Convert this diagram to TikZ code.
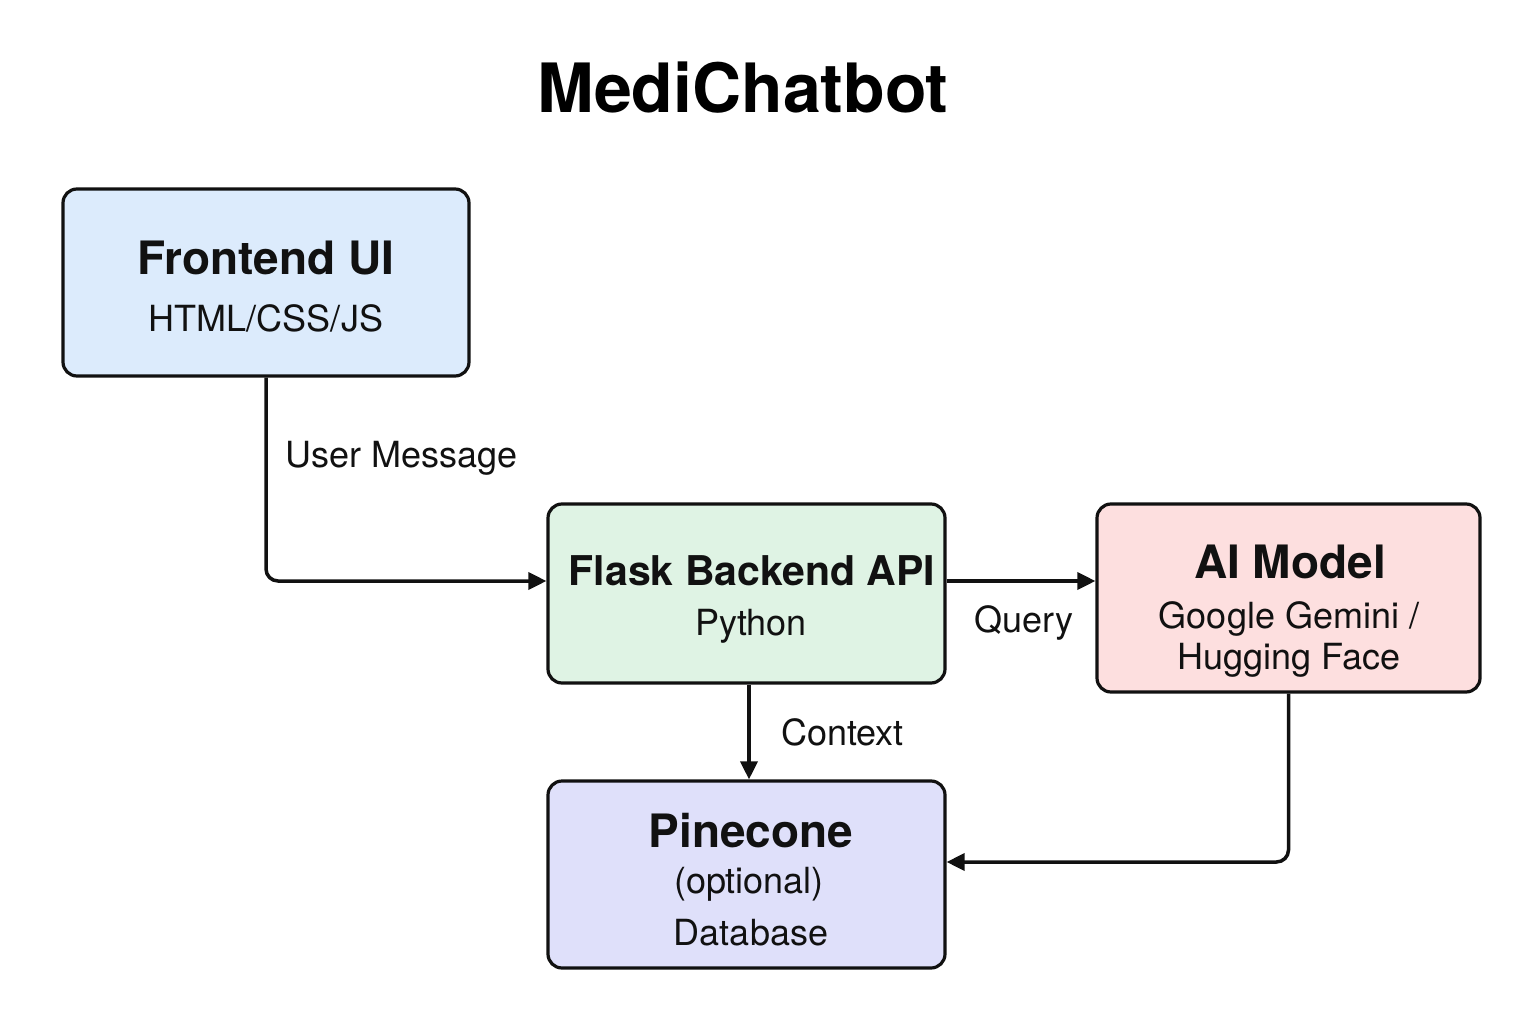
\documentclass[tikz,border=0pt]{standalone}
\usepackage{fontspec}
\setmainfont{TeX Gyre Heros}
\usetikzlibrary{arrows.meta}
\definecolor{feFill}{HTML}{DCEBFC}
\definecolor{flFill}{HTML}{DFF3E4}
\definecolor{aiFill}{HTML}{FDDFDF}
\definecolor{pcFill}{HTML}{DFE0FA}
\definecolor{ink}{HTML}{111111}
\tikzset{
  box/.style={draw=ink, line width=3.2pt, rounded corners=14pt, rectangle, inner sep=0pt},
  ttl/.style={anchor=base, inner sep=0pt, font=\fontsize{46}{50}\selectfont\bfseries, text=ink},
  sub/.style={anchor=base, inner sep=0pt, font=\fontsize{36}{40}\selectfont, text=ink},
  lbl/.style={anchor=base west, inner sep=0pt, font=\fontsize{36}{40}\selectfont, text=ink},
  conn/.style={draw=ink, line width=3.5pt, rounded corners=12pt, -{Triangle[length=18pt,width=17pt]}}
}
\begin{document}
\begin{tikzpicture}[x=1pt,y=-1pt]
\useasboundingbox (0,0) rectangle (1536,1024);
\fill[white] (0,0) rectangle (1536,1024);
% title
\node[anchor=base, inner sep=0pt, font=\fontsize{68}{72}\selectfont\bfseries, text=black] (title) at (743,113) {MediChatbot};
% boxes
\node[box, fill=feFill, minimum width=406pt, minimum height=187pt] (fe) at (266,282.5) {};
\node[box, fill=flFill, minimum width=397pt, minimum height=179pt] (fl) at (746.5,593.5) {};
\node[box, fill=aiFill, minimum width=383pt, minimum height=188pt] (ai) at (1288.5,598) {};
\node[box, fill=pcFill, minimum width=397pt, minimum height=187pt] (pc) at (746.5,874.5) {};
% box texts
\node[ttl] (fet) at (266,275) {Frontend UI};
\node[sub] (fes) at (266,331) {HTML/CSS/JS};
\node[ttl, font=\fontsize{41}{45}\selectfont\bfseries] (flt) at (752,585) {Flask Backend API};
\node[sub] (fls) at (751,635) {Python};
\node[ttl] (ait) at (1290,578) {AI Model};
\node[sub] (ais1) at (1289,628) {Google Gemini /};
\node[sub] (ais2) at (1289,669) {Hugging Face};
\node[ttl] (pct) at (751,847) {Pinecone};
\node[sub] (pcs1) at (749,893) {(optional)};
\node[sub] (pcs2) at (751,945) {Database};
% connectors
\draw[conn] (fe.south) |- ([yshift=12.5pt]fl.west);
\draw[conn] ([yshift=12.5pt]fl.east) -- ([yshift=17pt]ai.west);
\draw[conn] ([xshift=2.5pt]fl.south) -- ([xshift=2.5pt]pc.north);
\draw[conn] (ai.south) |- ([yshift=12.5pt]pc.east);
% labels
\node[lbl] (lum) at (285,467) {User Message};
\node[lbl] (lq) at (974,632) {Query};
\node[lbl] (lc) at (781,745) {Context};
\end{tikzpicture}
\end{document}
